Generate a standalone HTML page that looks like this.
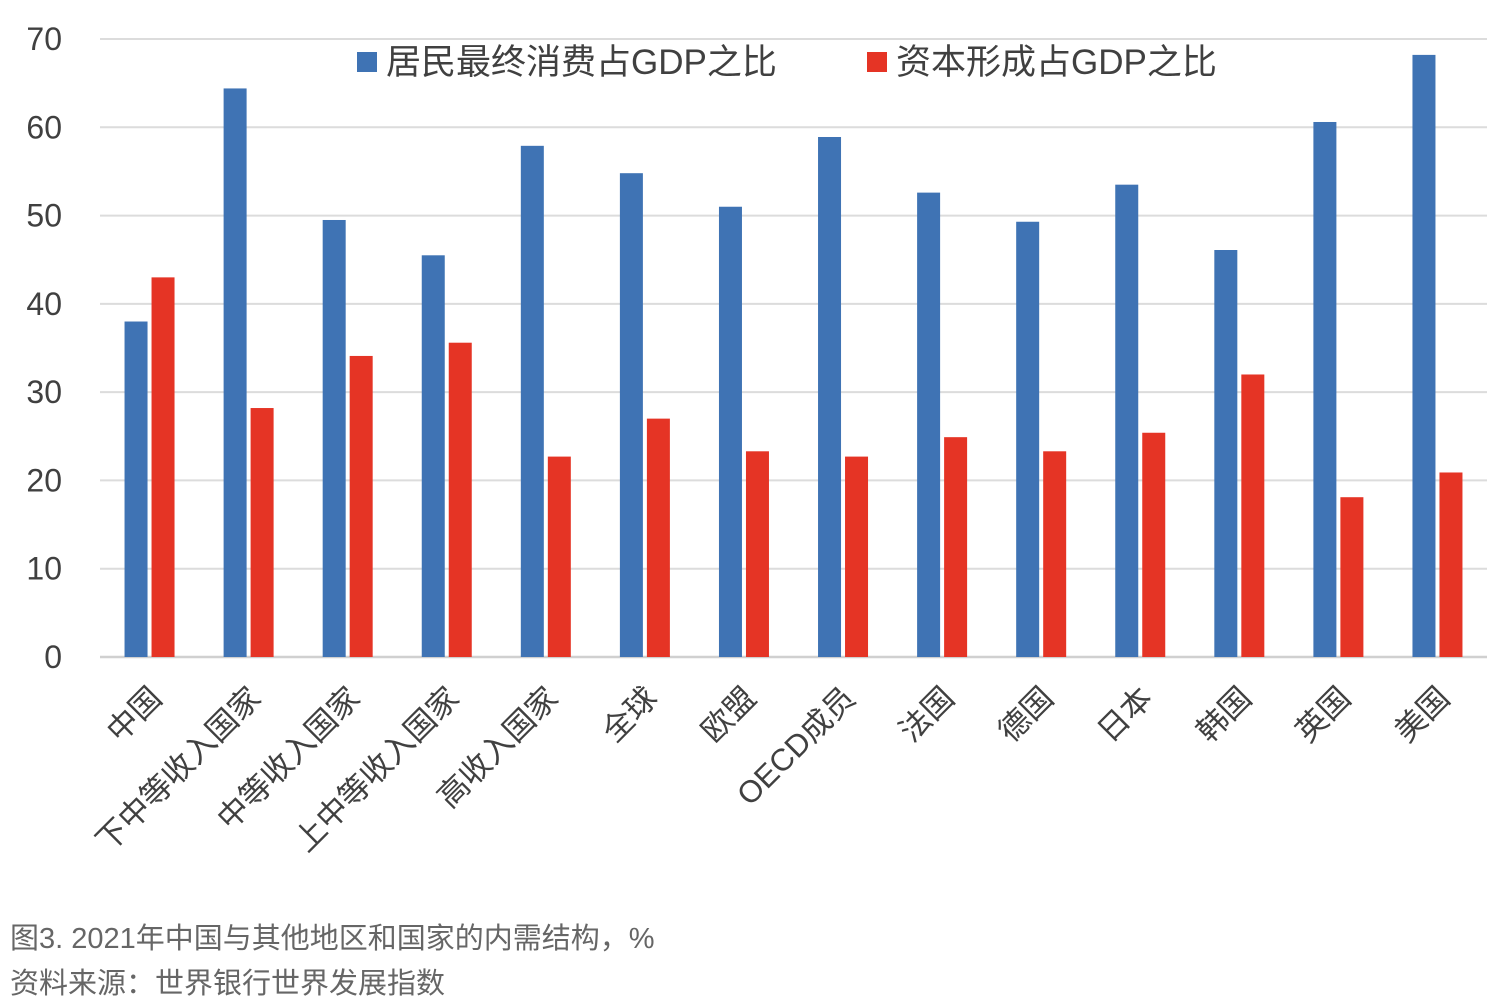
<!DOCTYPE html>
<html><head><meta charset="utf-8">
<style>
html,body{margin:0;padding:0;background:#fff;}
svg{display:block;font-family:"Liberation Sans","Noto Sans CJK SC",sans-serif;}
</style></head>
<body>
<svg id="chart" width="1508" height="1000">
  <g id="grid"></g>
  <g id="yticks"></g>
  <g id="bars"></g>
  <g id="xlabels"></g>
  <g>
    <rect x="357" y="52" width="20" height="20" fill="#3f73b4"></rect>
    <text x="386" y="74" font-size="35" fill="#404040">居民最终消费占GDP之比</text>
    <rect x="867" y="52" width="20" height="20" fill="#e53425"></rect>
    <text x="896" y="74" font-size="35" fill="#404040">资本形成占GDP之比</text>
  </g>
  <text x="10" y="948" font-size="29" fill="#666">图3. 2021年中国与其他地区和国家的内需结构，%</text>
  <text x="10" y="993" font-size="29" fill="#666">资料来源：世界银行世界发展指数</text>
</svg>
<script>
const categories = ["中国","下中等收入国家","中等收入国家","上中等收入国家","高收入国家","全球","欧盟","OECD成员","法国","德国","日本","韩国","英国","美国"];
const consumption = [38, 64.4, 49.5, 45.5, 57.9, 54.8, 51, 58.9, 52.6, 49.3, 53.5, 46.1, 60.6, 68.2];
const capital = [43, 28.2, 34.1, 35.6, 22.7, 27, 23.3, 22.7, 24.9, 23.3, 25.4, 32, 18.1, 20.9];
const yTicks = [0,10,20,30,40,50,60,70];

const NS = "http://www.w3.org/2000/svg";
const left = 100, right = 1487, y0 = 657, yTop = 39, yMax = 70;
const yScale = v => y0 - v / yMax * (y0 - yTop);
const band = (right - left) / categories.length;
const xCenter = i => left + band * (i + 0.5);
const bw = 23;

function mk(tag, attrs, parent) {
  const e = document.createElementNS(NS, tag);
  for (const k in attrs) e.setAttribute(k, attrs[k]);
  parent.appendChild(e);
  return e;
}
const grid = document.getElementById("grid");
const yt = document.getElementById("yticks");
yTicks.forEach(t => {
  const l = mk("line", {x1: left, x2: right, y1: yScale(t), y2: yScale(t), stroke: t === 0 ? "#d0d0d0" : "#dcdcdc", "stroke-width": t === 0 ? 2.5 : 2}, grid);
  
  
  const tx = mk("text", {x: 62, y: yScale(t) + 11, "text-anchor": "end", "font-size": 32, fill: "#404040"}, yt);
  tx.textContent = t;
  
  
});
const bars = document.getElementById("bars");
const xl = document.getElementById("xlabels");
categories.forEach((c, i) => {
  const cx = xCenter(i);
  const b1 = mk("rect", {x: cx - bw - 2, y: yScale(consumption[i]), width: bw, height: y0 - yScale(consumption[i]), fill: "#3f73b4"}, bars);
  
  
  const b2 = mk("rect", {x: cx + 2, y: yScale(capital[i]), width: bw, height: y0 - yScale(capital[i]), fill: "#e53425"}, bars);
  
  
  const tx = mk("text", {x: cx + 14, y: 700, "text-anchor": "end", "font-size": 31, fill: "#404040", transform: `rotate(-45 ${cx + 14} 700)`}, xl);
  tx.textContent = c;
  
  
});
</script>
</body></html>
